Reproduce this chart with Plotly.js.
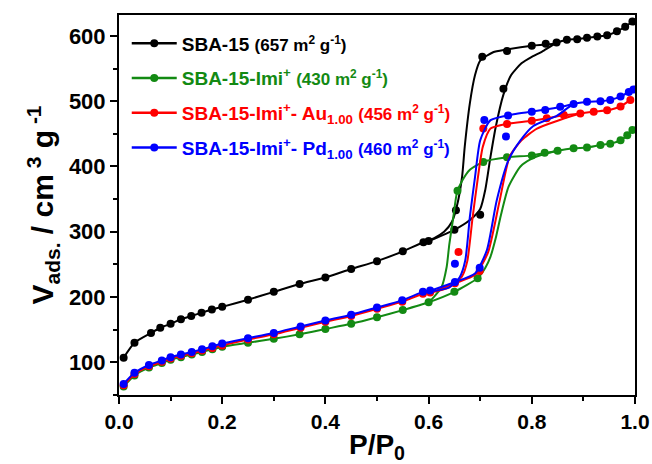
<!DOCTYPE html>
<html>
<head>
<meta charset="utf-8">
<script src="https://cdn.plot.ly/plotly-3.0.1.min.js"></script>
<style>html,body{margin:0;padding:0;background:#fff;}#chart{width:652px;height:464px;}</style>
</head>
<body>
<div id="chart"></div>
<script>
// ---- SBA-15 (black) ----
const sbaMarkX = [0.009,0.03,0.062,0.08,0.10,0.12,0.14,0.16,0.18,0.20,0.25,0.30,0.35,0.40,0.45,0.50,0.55,0.59,0.60,0.65,0.653,0.70,0.704,0.745,0.752,0.80,0.827,0.848,0.868,0.888,0.907,0.927,0.946,0.965,0.981,0.995];
const sbaMarkY = [107,130,145,153,159,166,171,176,181,185,196,208,220,230,243,255,270,284,286,303,333,326,568,519,577,585,588,590,594,595,597,599,601,607,614,622];
const sbaAdsX = [0.009,0.03,0.062,0.08,0.10,0.12,0.14,0.16,0.18,0.20,0.25,0.30,0.35,0.40,0.45,0.50,0.55,0.59,0.60,0.65,0.68,0.70,0.71,0.72,0.73,0.745,0.76,0.78,0.80,0.82,0.845,0.868,0.888,0.907,0.927,0.946,0.965,0.981,0.995];
const sbaAdsY = [107,130,145,153,159,166,171,176,181,185,196,208,220,230,243,255,270,284,286,303,318,335,365,415,460,510,540,558,568,576,588,594,595,597,599,601,607,614,622];
const sbaDesX = [0.845,0.80,0.75,0.725,0.70,0.69,0.68,0.67,0.665,0.655,0.645,0.63,0.61,0.59];
const sbaDesY = [588,585,579,575,562,540,497,430,385,340,315,300,290,284];

// ---- SBA-15-Imi+ (green) ----
const imiMarkX = [0.009,0.03,0.058,0.083,0.10,0.12,0.141,0.161,0.181,0.20,0.25,0.30,0.35,0.40,0.45,0.50,0.55,0.60,0.65,0.656,0.695,0.706,0.752,0.80,0.825,0.85,0.881,0.907,0.933,0.952,0.972,0.985,0.995];
const imiMarkY = [63,80,92,99,104,108,112,116,120,124,130,136,143,151,159,169,180,192,208,363,229,407,414,417,421,424,428,429,433,435,440,448,456];
const imiAdsX = [0.009,0.03,0.058,0.083,0.10,0.12,0.141,0.161,0.181,0.20,0.25,0.30,0.35,0.40,0.45,0.50,0.55,0.60,0.65,0.695,0.71,0.72,0.73,0.74,0.755,0.778,0.80,0.82,0.85,0.881,0.907,0.933,0.952,0.972,0.985,0.995];
const imiAdsY = [63,80,92,99,104,108,112,116,120,124,130,136,143,151,159,169,180,192,208,229,245,262,290,325,369,400,412,418,424,428,429,433,435,440,448,456];
const imiDesX = [0.85,0.80,0.752,0.706,0.68,0.665,0.655,0.648,0.64,0.635,0.625,0.61,0.60];
const imiDesY = [424,417,414,407,395,378,360,323,280,246,215,200,192];

// ---- SBA-15-Imi+-Au1.00 (red) ----
const auMarkX = [0.009,0.03,0.058,0.083,0.10,0.12,0.141,0.161,0.181,0.20,0.25,0.30,0.352,0.40,0.45,0.50,0.549,0.589,0.603,0.651,0.658,0.699,0.706,0.752,0.80,0.829,0.862,0.894,0.92,0.946,0.972,0.991];
const auMarkY = [65,82,94,101,106,110,114,118,122,126,135,143,153,162,171,182,193,205,207,221,269,240,458,465,470,474,479,481,484,486,492,502];
const auAdsX = [0.009,0.03,0.058,0.083,0.10,0.12,0.141,0.161,0.181,0.20,0.25,0.30,0.352,0.40,0.45,0.50,0.549,0.589,0.603,0.651,0.69,0.715,0.737,0.757,0.78,0.81,0.85,0.894,0.92,0.946,0.972,0.991];
const auAdsY = [65,82,94,101,106,110,114,118,122,126,135,143,153,162,171,182,193,205,207,221,234,268,345,415,440,458,470,481,484,486,492,502];
const auDesX = [0.894,0.86,0.80,0.75,0.72,0.705,0.695,0.685,0.675,0.665,0.64,0.60];
const auDesY = [481,478,470,465,458,430,380,320,255,232,215,206];

// ---- SBA-15-Imi+-Pd1.00 (blue) ----
const pdMarkX = [0.009,0.03,0.058,0.083,0.10,0.12,0.141,0.161,0.181,0.20,0.25,0.30,0.352,0.40,0.45,0.50,0.549,0.589,0.603,0.651,0.651,0.699,0.708,0.75,0.754,0.80,0.826,0.855,0.881,0.907,0.933,0.952,0.972,0.988,0.997];
const pdMarkY = [67,84,96,103,108,112,116,120,124.5,129,137,145,155,164,173,184,195,208,210,223,251,245,471,446,478,484,486.5,491.6,495.7,499,500,502,507,514,518];
const pdAdsX = [0.009,0.03,0.058,0.083,0.10,0.12,0.141,0.161,0.181,0.20,0.25,0.30,0.352,0.40,0.45,0.50,0.549,0.589,0.603,0.651,0.69,0.713,0.732,0.755,0.778,0.803,0.849,0.881,0.907,0.933,0.952,0.972,0.988,0.997];
const pdAdsY = [67,84,96,103,108,112,116,120,124.5,129,137,145,155,164,173,184,195,208,210,223,236,272,348,410,440,462,478,495.7,499,500,502,507,514,518];
const pdDesX = [0.881,0.855,0.80,0.765,0.72,0.70,0.69,0.68,0.671,0.66,0.64,0.60];
const pdDesY = [495.7,491,484,480,471,440,384,323,256,230,215,208];

const seriesNames = [
  "SBA-15 <span style='font-size:17px'>(657 m<sup>2</sup> g<sup>-1</sup>)</span>",
  "SBA-15-Imi<sup>+</sup> <span style='font-size:17px'>(430 m<sup>2</sup> g<sup>-1</sup>)</span>",
  "SBA-15-Imi<sup>+</sup>- Au<sub>1.00</sub> <span style='font-size:17px'>(456 m<sup>2</sup> g<sup>-1</sup>)</span>",
  "SBA-15-Imi<sup>+</sup>- Pd<sub>1.00</sub> <span style='font-size:17px'>(460 m<sup>2</sup> g<sup>-1</sup>)</span>"
];
const colors = ['#000000', '#138a13', '#ff0000', '#0000ff'];

const sets = [
  [sbaMarkX, sbaMarkY, sbaAdsX, sbaAdsY, sbaDesX, sbaDesY],
  [imiMarkX, imiMarkY, imiAdsX, imiAdsY, imiDesX, imiDesY],
  [auMarkX, auMarkY, auAdsX, auAdsY, auDesX, auDesY],
  [pdMarkX, pdMarkY, pdAdsX, pdAdsY, pdDesX, pdDesY]
];

const traces = [];
sets.forEach((s, i) => {
  const c = colors[i];
  traces.push({x: s[2], y: s[3], mode: 'lines', type: 'scatter', showlegend: false,
    line: {color: c, width: 2, shape: 'spline', smoothing: 0.6}, hoverinfo: 'skip'});
  traces.push({x: s[4], y: s[5], mode: 'lines', type: 'scatter', showlegend: false,
    line: {color: c, width: 2, shape: 'spline', smoothing: 0.6}, hoverinfo: 'skip'});
  traces.push({x: s[0], y: s[1], mode: 'markers', type: 'scatter', showlegend: false,
    marker: {color: c, size: 8}});
});
sets.forEach((s, i) => {
  traces.push({x: [null], y: [null], mode: 'lines+markers', type: 'scatter',
    name: "<span style='color:" + colors[i] + "'>" + seriesNames[i] + "</span>",
    legendgroup: 'g' + i,
    line: {color: colors[i], width: 2.5}, marker: {color: colors[i], size: 8}, legendrank: i + 1});
});

const fam = 'Liberation Sans, Arial, sans-serif';
const layout = {
  width: 652, height: 464,
  margin: {l: 119, r: 17, t: 15, b: 69},
  paper_bgcolor: '#fff', plot_bgcolor: '#fff',
  showlegend: true,
  legend: {x: 0.015, y: 0.975, xanchor: 'left', yanchor: 'top', bgcolor: 'rgba(0,0,0,0)',
    itemwidth: 45, tracegroupgap: 7,
    font: {family: fam, size: 19, weight: 'bold', color: '#000'}},
  xaxis: {
    range: [0, 1], tick0: 0, dtick: 0.2, tickformat: '.1f',
    showgrid: false, zeroline: false, showline: true, linewidth: 2, linecolor: '#000', mirror: true,
    ticks: 'outside', ticklen: 7, tickwidth: 2, tickcolor: '#000',
    minor: {dtick: 0.1, ticks: 'outside', ticklen: 4, tickwidth: 2, tickcolor: '#000', showgrid: false},
    tickfont: {family: fam, size: 21, weight: 'bold', color: '#000'},
    title: {text: 'P/P<sub>0</sub>', font: {family: fam, size: 28, weight: 'bold', color: '#000'}, standoff: 4}
  },
  yaxis: {
    range: [50, 632], tick0: 0, dtick: 100,
    showgrid: false, zeroline: false, showline: true, linewidth: 2, linecolor: '#000', mirror: true,
    ticks: 'outside', ticklen: 7, tickwidth: 2, tickcolor: '#000',
    minor: {dtick: 50, ticks: 'outside', ticklen: 4, tickwidth: 2, tickcolor: '#000', showgrid: false},
    tickfont: {family: fam, size: 22, weight: 'bold', color: '#000'},
    title: {text: 'V<sub>ads.</sub> / cm<sup>&nbsp;3</sup>&nbsp;g<sup>&nbsp;-1</sup>', font: {family: fam, size: 30, weight: 'bold', color: '#000'}, standoff: 6}
  }
};

Plotly.newPlot('chart', traces, layout, {displayModeBar: false, staticPlot: true});
</script>
</body>
</html>
